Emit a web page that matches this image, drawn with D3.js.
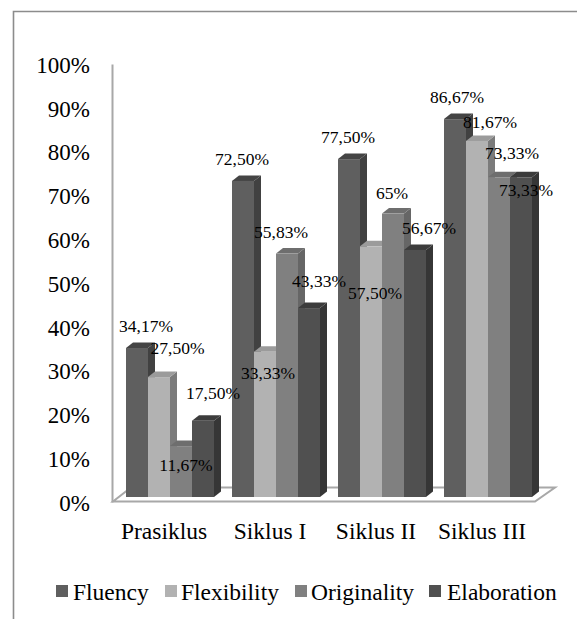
<!DOCTYPE html>
<html><head><meta charset="utf-8">
<script src="https://cdn.jsdelivr.net/npm/d3@7"></script>
<style>html,body{margin:0;padding:0;background:#fff}svg{display:block}text{font-family:"Liberation Serif",serif;fill:#000}</style>
</head><body><svg id="c" width="577" height="619"></svg>
<script>
const categories = ["Prasiklus","Siklus I","Siklus II","Siklus III"];
const series = ["Fluency","Flexibility","Originality","Elaboration"];
const Fluency = [34.17,72.5,77.5,86.67];
const Flexibility = [27.5,33.33,57.5,81.67];
const Originality = [11.67,55.83,65,73.33];
const Elaboration = [17.5,43.33,56.67,73.33];
const valueLabels = [
 ["34,17%","72,50%","77,50%","86,67%"],
 ["27,50%","33,33%","57,50%","81,67%"],
 ["11,67%","55,83%","65%","73,33%"],
 ["17,50%","43,33%","56,67%","73,33%"]];
const yTicks = [0,10,20,30,40,50,60,70,80,90,100];

const table = [Fluency,Flexibility,Originality,Elaboration];
const front = ["#5f5f5f","#b2b2b2","#808080","#505050"];
const side  = ["#414141","#7b7b7b","#666666","#363636"];
const top3d = ["#444444","#9b9b9b","#6e6e6e","#3c3c3c"];
// hand-placed label offsets (dx from bar centre, dy from bar top), as in the source
const labelOff = [
 [[9,-22],[-1,-22],[-1,-22],[2,-22]],
 [[18.5,-29],[3,21],[4,47],[13,-19]],
 [[5,19],[-6,-22],[-1,-21],[13,-24]],
 [[10,-28],[10,-27],[14,-22],[5,13]]];

const svg = d3.select("#c");
const border = "#8c8c8c";
svg.append("path").attr("d","M577,11.5H13.5V619").attr("fill","none").attr("stroke",border).attr("stroke-width",1.6);

const y = d3.scaleLinear().domain([0,100]).range([497,61]);
const yAxis = d3.scaleLinear().domain([0,100]).range([503,65]);
const x0 = d3.scaleBand().domain(categories).range([117,541]);
const x1 = d3.scaleBand().domain(series).range([9,97]);
const dx = 7, dy = 5.5;

// floor
svg.append("polygon").attr("points",[[113,501.5],[535,501.5],[555,487.5],[131,487.5]].join(" "))
 .attr("fill","#fff").attr("stroke","#a8a8a8").attr("stroke-width",2);

// value axis
const ga = svg.append("g").attr("transform","translate(112,0)")
 .call(d3.axisLeft(yAxis).tickValues(yTicks).tickSize(0).tickPadding(22).tickFormat(d=>d+"%"));
ga.select(".domain").attr("stroke","#a8a8a8").attr("stroke-width",2).attr("transform","translate(0,-1)");
ga.selectAll("text").attr("font-size",23).style("font-family",'"Liberation Serif",serif').attr("fill","#000");

// category axis
const gx = svg.append("g").attr("transform","translate(-6,522)")
 .call(d3.axisBottom(x0).tickSize(0).tickPadding(0));
gx.select(".domain").remove();
gx.selectAll("text").attr("font-size",23.5).style("font-family",'"Liberation Serif",serif').attr("fill","#000");

// bars
categories.forEach((c,ci)=>{
 series.forEach((s,si)=>{
  const v = table[si][ci], L = x0(c)+x1(s), W = x1.bandwidth(), T = y(v), B = y(0);
  const g = svg.append("g");
  g.append("polygon").attr("points",[[L+W,T],[L+W+dx,T-dy],[L+W+dx,B-dy],[L+W,B]].join(" ")).attr("fill",side[si]);
  g.append("polygon").attr("points",[[L,T],[L+dx,T-dy],[L+W+dx,T-dy],[L+W,T]].join(" ")).attr("fill",top3d[si]);
  g.append("rect").attr("x",L).attr("y",T).attr("width",W).attr("height",B-T).attr("fill",front[si]);
 });
});

// value labels
categories.forEach((c,ci)=>{
 series.forEach((s,si)=>{
  const o = labelOff[si][ci];
  svg.append("text").attr("x",x0(c)+x1(s)+x1.bandwidth()/2+o[0]).attr("y",y(table[si][ci])+o[1])
   .attr("text-anchor","middle").attr("dominant-baseline","central").attr("font-size",17.5).text(valueLabels[si][ci]);
 });
});

// legend
const legendX = d3.scaleOrdinal().domain(series).range([56,165,295,429]);
const legendGap = [17,16,16,18];
series.forEach((s,i)=>{
 svg.append("rect").attr("x",legendX(s)).attr("y",585).attr("width",12).attr("height",12).attr("fill",front[i]);
 svg.append("text").attr("x",legendX(s)+legendGap[i]).attr("y",591.5).attr("dominant-baseline","central").attr("font-size",23.5).text(s);
});
</script></body></html>
